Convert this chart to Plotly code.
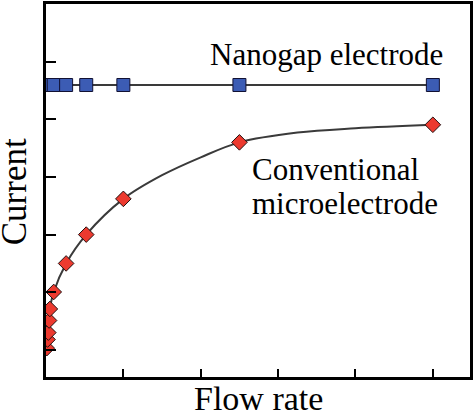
import plotly.graph_objects as go

# ---- data (arbitrary units) ----
flow_nano = [0.01, 0.02, 0.03, 0.04, 0.05, 0.1, 0.26, 0.52, 1.0, 2.5, 5.0]
current_nano = [4.595] * len(flow_nano)

flow_conv = [0.01, 0.02, 0.03, 0.04, 0.05, 0.1, 0.26, 0.52, 1.0, 2.5, 5.0]
current_conv = [0.03, 0.18, 0.30, 0.51, 0.71, 1.005, 1.50, 2.00, 2.62, 3.60, 3.905]

# fitted curve
fit_x = [0.01, 0.05, 0.1, 0.26, 0.52, 1.0, 1.5, 2.0, 2.5, 3.25, 4.0, 5.0]
fit_y = [0.03, 0.71, 1.005, 1.50, 2.00, 2.62, 3.03, 3.34, 3.60, 3.77, 3.845, 3.905]

x_ticks = [1, 2, 3, 4, 5]
y_ticks = [0, 1, 2, 3, 4, 5]

FONT = "Liberation Serif"
LINE_GRAY = "#3a3a3a"
BLUE = "#3C5CB4"
RED = "#EC3A2F"

fig = go.Figure()

fig.add_trace(go.Scatter(x=flow_nano, y=current_nano, mode="lines",
                         line=dict(color=LINE_GRAY, width=2), hoverinfo="skip"))
fig.add_trace(go.Scatter(x=fit_x, y=fit_y, mode="lines",
                         line=dict(color=LINE_GRAY, width=2, shape="spline", smoothing=1.0),
                         hoverinfo="skip"))
fig.add_trace(go.Scatter(x=flow_nano, y=current_nano, mode="markers",
                         marker=dict(symbol="square", size=13, color=BLUE,
                                     line=dict(color="#111133", width=1))))
fig.add_trace(go.Scatter(x=flow_conv, y=current_conv, mode="markers",
                         marker=dict(symbol="diamond", size=12, color=RED,
                                     line=dict(color="#221010", width=1))))

axis_common = dict(showgrid=False, zeroline=False, showline=True, mirror=True,
                   linecolor="black", linewidth=2.5, ticks="inside",
                   tickcolor="black", tickwidth=2, showticklabels=False)

fig.update_xaxes(range=[0, 5.48], tickvals=x_ticks, ticklen=8, **axis_common)
fig.update_yaxes(range=[-0.47, 6.0], tickvals=y_ticks, ticklen=10, **axis_common)

fig.add_annotation(x=3.62, y=5.13, xref="x", yref="y", text="Nanogap electrode",
                   showarrow=False, xanchor="center", yanchor="middle",
                   font=dict(family=FONT, size=31, color="black"))
fig.add_annotation(x=2.637, y=3.134, xref="x", yref="y", text="Conventional",
                   showarrow=False, xanchor="left", yanchor="middle",
                   font=dict(family=FONT, size=31, color="black"))
fig.add_annotation(x=2.637, y=2.532, xref="x", yref="y", text="microelectrode",
                   showarrow=False, xanchor="left", yanchor="middle",
                   font=dict(family=FONT, size=31, color="black"))
fig.add_annotation(x=0.5, y=-0.0585, xref="paper", yref="paper", text="Flow rate",
                   showarrow=False, xanchor="center", yanchor="middle",
                   font=dict(family=FONT, size=34, color="black"))
fig.add_annotation(x=-0.074, y=0.497, xref="paper", yref="paper", text="Current",
                   textangle=-90, showarrow=False, xanchor="center", yanchor="middle",
                   font=dict(family=FONT, size=35, color="black"))

fig.update_layout(width=474, height=414, showlegend=False,
                  margin=dict(l=46, r=4, t=1, b=37),
                  paper_bgcolor="white", plot_bgcolor="white")

fig.write_html("out.html", config={"displayModeBar": False},
               post_script="document.body.style.margin='0';document.body.style.overflow='hidden';")
